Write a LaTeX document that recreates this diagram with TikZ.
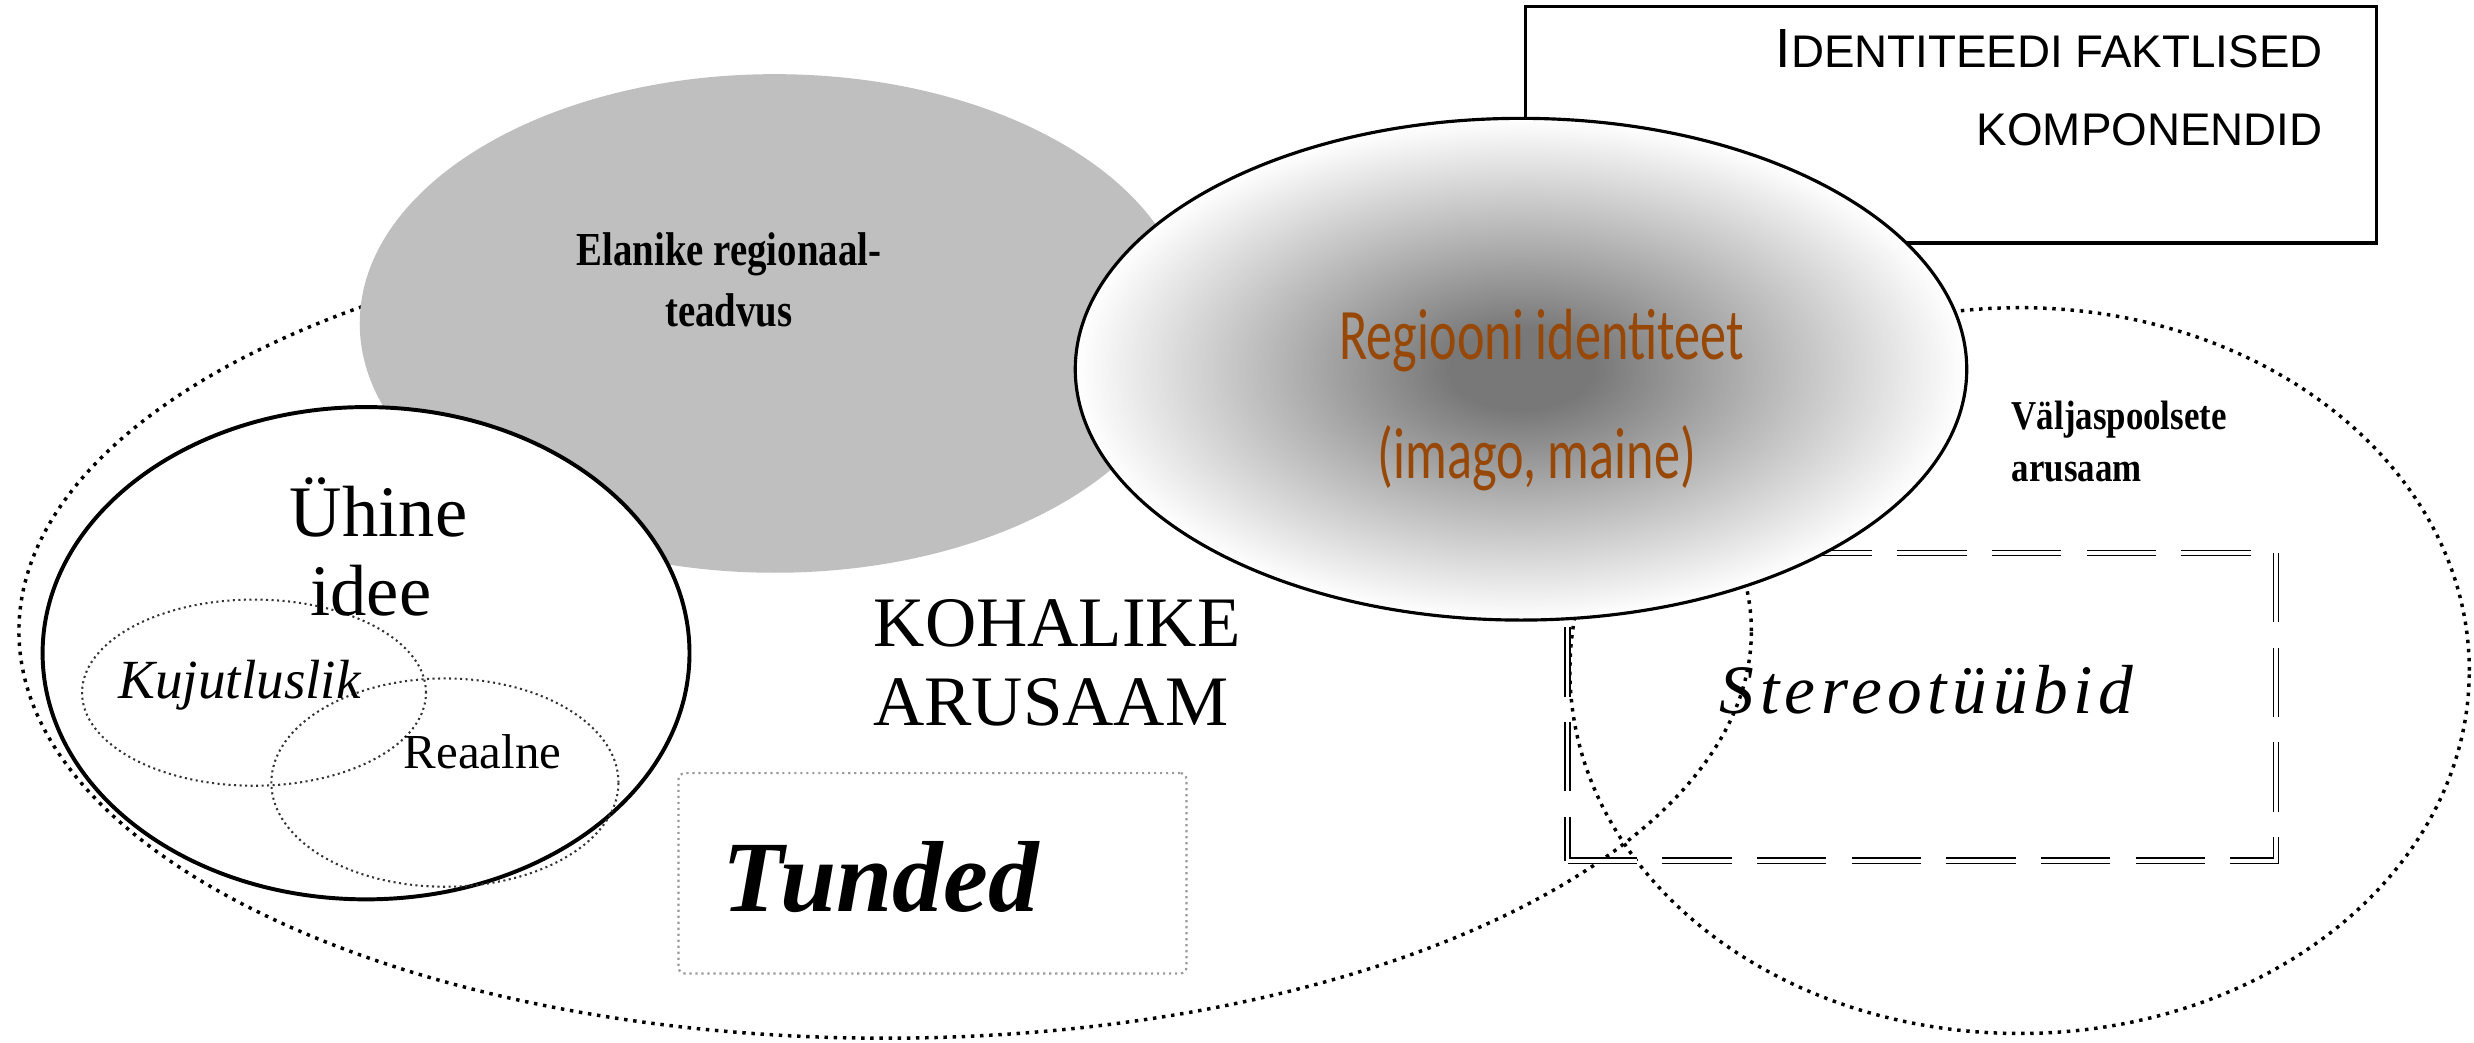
\documentclass[tikz,border=0pt]{standalone}
\usepackage{fontspec}
\setmainfont{Liberation Serif}
\newfontfamily\sansf{Liberation Sans}
\newfontfamily\calf{Carlito}
\newfontfamily\stereof[LetterSpace=8]{Liberation Serif}
\usetikzlibrary{shapes.geometric}
\definecolor{brownish}{RGB}{151,71,6}
\definecolor{elgray}{RGB}{191,191,191}
\definecolor{regc}{gray}{0.47}
\definecolor{regw}{gray}{1}
\pgfdeclareradialshading{regshade}{\pgfpoint{0bp}{0bp}}{color(0bp)=(regc); color(4bp)=(regc); color(25bp)=(regw); color(50bp)=(regw)}
\tikzset{
  bigdots/.style={draw=black, line width=2.2pt, dash pattern=on 2.2pt off 3.6pt},
  finedots/.style={draw=black!80, line width=1.3pt, dash pattern=on 1.3pt off 2.2pt},
  graydots/.style={draw=black!40, line width=1.4pt, dash pattern=on 1.4pt off 2.4pt},
  ell/.style={ellipse, inner sep=0pt, outer sep=0pt},
  lbl/.style={anchor=base, inner sep=0pt, outer sep=0pt},
  dbldash/.style={draw=black, double=white, double distance=2.4pt, line width=1pt, dash pattern=on 44pt off 16pt}
}
\begin{document}
\begin{tikzpicture}[x=1pt, y=-1pt]
\useasboundingbox[fill=white] (0,0) rectangle (1568,661);
% outer dotted ellipses
\node[ell, bigdots, minimum width=1098pt, minimum height=516pt] (koh) at (561,400) {};
\node[ell, bigdots, minimum width=570pt, minimum height=460pt] (valj) at (1280,425) {};
% grey ellipse
\node[ell, fill=elgray, minimum width=526pt, minimum height=316pt] (elan) at (491,205) {};
% Yhine idee
\node[ell, draw=black, fill=white, line width=2.5pt, minimum width=410pt, minimum height=312pt] (yhine) at (232,414) {};
\node[ell, finedots, minimum width=218pt, minimum height=118pt] (kuj) at (161,439) {};
\node[ell, finedots, minimum width=220pt, minimum height=132pt] (rea) at (282,496) {};
% Stereotyybid box
\node[dbldash, minimum width=449pt, minimum height=195pt, inner sep=0pt] (ster) at (1218,448) {};
% Faktlised box
\node[draw=black, fill=white, line width=2pt, minimum width=539pt, minimum height=150pt, anchor=north west, inner sep=0pt] (fakt) at (966,3) {};
% Regiooni identiteet
\node[ell, draw=black, line width=2pt, shade, shading=regshade, minimum width=565pt, minimum height=318pt] (reg) at (964,234) {};
% Tunded box
\node[graydots, rounded corners=4pt, minimum width=322pt, minimum height=127pt, inner sep=0pt] (tund) at (591,553.5) {};
% texts
\node[lbl, anchor=base east] (f1) at (1472,43) {\sansf\fontsize{35}{40}\selectfont I\fontsize{29}{34}\selectfont DENTITEEDI FAKTLISED};
\node[lbl, anchor=base east] (f2) at (1472,92) {\sansf\fontsize{29}{34}\selectfont KOMPONENDID};
\node[lbl] (e1) at (462,168) {\scalebox{0.82}[1]{\fontsize{30}{34}\selectfont\bfseries Elanike regionaal-}};
\node[lbl] (e2) at (462,207) {\scalebox{0.82}[1]{\fontsize{30}{34}\selectfont\bfseries teadvus}};
\node[lbl] (r1) at (977,228) {\color{brownish}\scalebox{0.72}[1]{\calf\fontsize{46}{50}\selectfont Regiooni identiteet}};
\node[lbl] (r2) at (974,303) {\color{brownish}\scalebox{0.72}[1]{\calf\fontsize{46}{50}\selectfont (imago, maine)}};
\node[lbl] (u1) at (240,340) {\fontsize{46}{50}\selectfont Ühine};
\node[lbl] (u2) at (235,390) {\fontsize{46}{50}\selectfont idee};
\node[lbl, anchor=base west] (k1) at (75,443) {\fontsize{35}{40}\selectfont\itshape Kujutluslik};
\node[lbl, anchor=base west] (re1) at (256,487) {\fontsize{31}{36}\selectfont Reaalne};
\node[lbl] (ka1) at (670,410) {\fontsize{45}{50}\selectfont KOHALIKE};
\node[lbl] (ka2) at (666,460) {\fontsize{45}{50}\selectfont ARUSAAM};
\node[lbl, anchor=base west] (t1) at (458,578) {\fontsize{64}{70}\selectfont\bfseries\itshape Tunded};
\node[lbl, anchor=base west] (v1) at (1275,272) {\scalebox{0.85}[1]{\fontsize{26}{30}\selectfont\bfseries Väljaspoolsete}};
\node[lbl, anchor=base west] (v2) at (1275,305) {\scalebox{0.85}[1]{\fontsize{26}{30}\selectfont\bfseries arusaam}};
\node[lbl] (s1) at (1221,452) {\stereof\fontsize{44}{48}\selectfont\itshape Stereotüübid};
\end{tikzpicture}
\end{document}
